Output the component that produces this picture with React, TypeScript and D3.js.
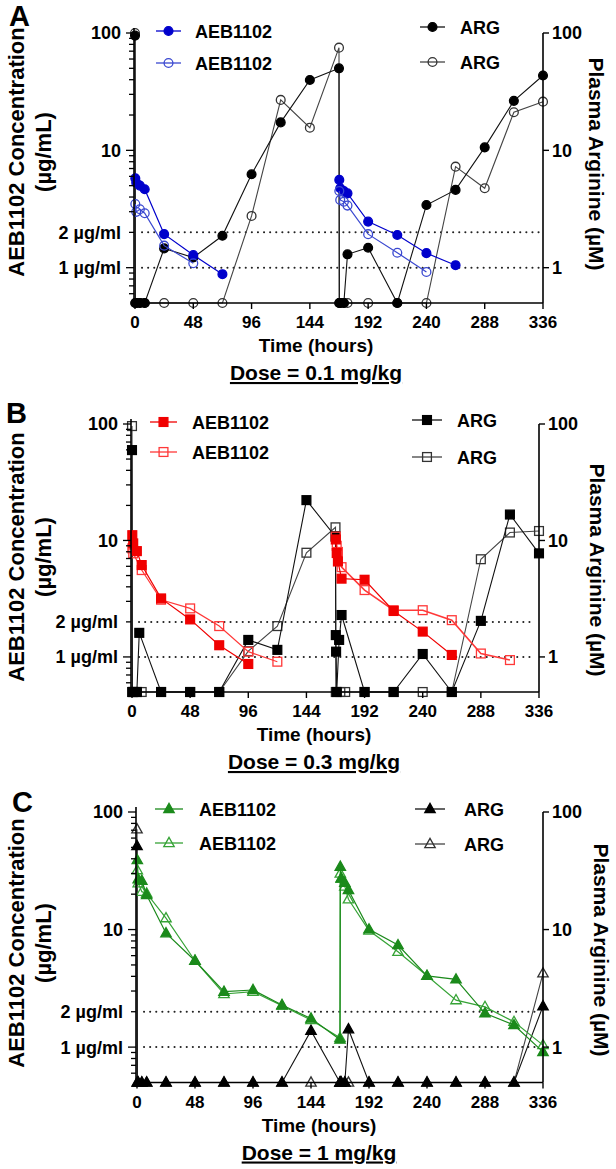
import React from 'react';
import * as d3 from 'd3';

// Below the limit of quantitation: plotted on the floor of the axis
const B = 0.5;

const xTicks = [0, 48, 96, 144, 192, 240, 288, 336];
const leftTickValues = [100, 10, 2, 1];
const leftTickLabels = ['100', '10', '2 µg/ml', '1 µg/ml'];
const rightTickValues = [100, 10, 1];
const rightTickLabels = ['100', '10', '1'];
const refLines = [2, 1];
const seriesNames = ['AEB1102', 'AEB1102', 'ARG', 'ARG'];
const doseLabels = ['Dose = 0.1 mg/kg', 'Dose = 0.3 mg/kg', 'Dose = 1 mg/kg'];
const panelLetters = ['A', 'B', 'C'];

// ---------- Panel A (0.1 mg/kg) ----------
const timeA_arg = [0, 0.25, 1, 4, 8, 24, 48, 72, 96, 120, 144, 168, 168.25, 169, 172, 175, 192, 216, 240, 264, 288, 312, 336];
const argA_filled = [95, B, B, B, B, 1.46, 1.22, 1.87, 6.25, 17.3, 39.8, 50, B, B, B, 1.3, 1.48, B, 3.42, 4.6, 10.6, 26.4, 43.4];
const argA_open = [100, B, B, B, B, B, B, B, 2.76, 26.9, 15.6, 75, B, B, B, B, B, B, B, 7.26, 4.75, 21.1, 26];
const timeA_aeb1 = [0.25, 1, 4, 8, 24, 48, 72];
const aebA_filled1 = [5.78, 5.3, 5.0, 4.66, 1.93, 1.28, 0.88];
const aebA_open1 = [3.49, 2.99, 3.15, 2.91, 1.54, 1.09];
const timeA_aeb2 = [168.25, 169, 172, 175, 192, 216, 240, 264];
const aebA_filled2 = [5.6, 4.75, 4.5, 4.3, 2.47, 1.9, 1.33, 1.05];
const aebA_open2 = [4.5, 3.78, 3.65, 3.38, 1.93, 1.34, 0.92];

// ---------- Panel B (0.3 mg/kg) ----------
const timeB_argF = [0, 0.25, 1, 4, 6, 24, 48, 72, 96, 120, 144, 168, 168.25, 168.5, 169, 171, 173, 192, 216, 240, 264, 288, 312, 336];
const argB_filled = [59.7, B, B, B, 1.61, B, B, B, 1.4, 1.15, 22.2, 10.8, 1.54, 1.11, B, 1.4, 2.29, B, B, 1.06, B, 2.04, 16.7, 7.75];
const timeB_argO = [0, 0.25, 1, 4, 8, 24, 48, 72, 96, 120, 144, 168, 168.25, 169, 172, 176, 192, 216, 240, 264, 288, 312, 336];
const argB_open = [96, B, B, B, B, B, B, B, 1.12, 1.84, 7.85, 12.97, B, B, B, B, B, B, B, B, 6.9, 11.7, 12.06];
const timeB_aebF1 = [0.25, 1, 4, 8, 24, 48, 72, 96];
const aebB_filled1 = [11.1, 9.44, 8.1, 6.15, 3.18, 2.1, 1.26, 0.87];
const timeB_aebO1 = [0.25, 1, 8, 24, 48, 72, 96, 120];
const aebB_open1 = [8.55, 7.75, 5.57, 3.1, 2.61, 1.84, 1.11, 0.91];
const timeB_aeb2 = [168.25, 169, 170, 173, 192, 216, 240, 264, 288, 312];
const aebB_filled2 = [10.2, 7.8, 6.6, 4.7, 4.6, 2.48, 1.65, 1.04];
const aebB_open2 = [10.8, 9.0, 7.97, 5.9, 3.75, 2.52, 2.52, 2.07, 1.07, 0.94];

// ---------- Panel C (1 mg/kg) ----------
const timeC_arg = [0, 0.25, 1, 4, 8, 24, 48, 72, 96, 120, 144, 168, 168.25, 169, 172, 175, 192, 216, 240, 264, 288, 312, 336];
const argC_filled = [51.4, B, B, B, B, B, B, B, B, B, 1.38, B, B, B, B, 1.42, B, B, B, B, B, B, 2.23];
const argC_open = [71.3, B, B, B, B, B, B, B, B, B, B, B, B, B, B, B, B, B, B, B, B, B, 4.24];
const timeC_aeb = [0.25, 1, 4, 8, 24, 48, 72, 96, 120, 144, 168, 168.25, 169, 172, 175, 192, 216, 240, 264, 288, 312, 336];
const aebC_filled = [39, 26.8, 26, 19.7, 9.3, 5.43, 2.96, 3.06, 2.28, 1.75, 1.16, 34.3, 27.3, 25, 21.7, 10.05, 7.38, 4.04, 3.77, 1.94, 1.54, 0.91];
const aebC_open = [32, 24.8, 21, 20.3, 12.5, 5.43, 2.83, 2.96, 2.25, 1.7, 1.2, 30, 27, 23.2, 18.1, 9.8, 6.47, 4.04, 2.51, 2.2, 1.64, 1.04];

type Shape = 'circle' | 'square' | 'triangle';

const FONT = '"Liberation Sans", Arial, Helvetica, sans-serif';

function Marker({ cx, cy, shape, color, filled }: { cx: number; cy: number; shape: Shape; color: string; filled: boolean }) {
  const fill = filled ? color : 'none';
  const sw = 1.3;
  if (shape === 'circle') return <circle cx={cx} cy={cy} r={4.4} fill={fill} stroke={color} strokeWidth={sw} />;
  if (shape === 'square') return <rect x={cx - 4.4} y={cy - 4.4} width={8.8} height={8.8} fill={fill} stroke={color} strokeWidth={sw} />;
  const p = `M${cx},${cy - 5.6}L${cx + 5.2},${cy + 3.6}L${cx - 5.2},${cy + 3.6}Z`;
  return <path d={p} fill={fill} stroke={color} strokeWidth={sw} />;
}

function Series({ times, values, x, y, color, lineColor, shape, filled, lw = 1.2 }: any) {
  const pts: [number, number][] = values.map((v: number, i: number) => [x(times[i]), y(v)]);
  const line = d3.line();
  return (
    <g>
      <path d={line(pts) || ''} fill="none" stroke={lineColor} strokeWidth={lw} />
      {pts.map((p, i) => (
        <Marker key={i} cx={p[0]} cy={p[1]} shape={shape} color={color} filled={filled} />
      ))}
    </g>
  );
}

function LegendItem({ x1, x2, y, tx, label, color, lineColor, shape, filled }: any) {
  return (
    <g>
      <line x1={x1} x2={x2} y1={y} y2={y} stroke={lineColor} strokeWidth={1.3} />
      <Marker cx={(x1 + x2) / 2} cy={y} shape={shape} color={color} filled={filled} />
      <text x={tx} y={y + 6.5} fontSize={18} fontWeight="bold" fontFamily={FONT}>{label}</text>
    </g>
  );
}

function Panel({ cfg, idx, aeb, arg, colors, shape }: any) {
  const x = d3.scaleLinear().domain([0, 336]).range([cfg.x0, cfg.x1]);
  const y = d3.scaleLog().domain([0.5, 100]).range([cfg.yBot, cfg.y100]);
  const minor = y.ticks();
  const isMajor = (v: number) => Math.abs(Math.log10(v) - Math.round(Math.log10(v))) < 1e-6;
  const cx = cfg.textCenter;
  return (
    <g>
      {refLines.map((v) => (
        <line key={v} x1={cfg.axisX + 8} x2={cfg.rightX - 4} y1={y(v)} y2={y(v)} stroke="#222" strokeWidth={2}
          strokeDasharray="0.1,6" strokeLinecap="round" />
      ))}
      {arg.map((s: any, i: number) => (
        <Series key={'arg' + i} {...s} x={x} y={y} shape={shape} />
      ))}
      {aeb.map((s: any, i: number) => (
        <Series key={'aeb' + i} {...s} x={x} y={y} shape={shape} />
      ))}
      <line x1={cfg.axisX} x2={cfg.axisX} y1={cfg.y100 - 5} y2={cfg.yBot} stroke="#000" strokeWidth={1.6} />
      <line x1={cfg.axisX} x2={cfg.rightX} y1={cfg.yBot} y2={cfg.yBot} stroke="#000" strokeWidth={1.6} />
      <line x1={cfg.rightX} x2={cfg.rightX} y1={cfg.y100} y2={cfg.yBot} stroke="#000" strokeWidth={1.6} />
      {minor.filter((v) => v > 0.5).map((v) => (
        <line key={'mt' + v} x1={cfg.axisX - (isMajor(v) ? 8 : 5)} x2={cfg.axisX} y1={y(v)} y2={y(v)} stroke="#000" strokeWidth={1.3} />
      ))}
      {leftTickValues.map((v, i) => (
        <text key={'lt' + v} x={cfg.axisX - 13} y={y(v)} dy="0.36em" textAnchor="end" fontSize={18} fontWeight="bold" fontFamily={FONT}>
          {leftTickLabels[i]}
        </text>
      ))}
      {rightTickValues.map((v, i) => (
        <g key={'rt' + v}>
          <line x1={cfg.rightX} x2={cfg.rightX + 6} y1={y(v)} y2={y(v)} stroke="#000" strokeWidth={1.4} />
          <text x={cfg.rightX + 9} y={y(v)} dy="0.36em" fontSize={18} fontWeight="bold" fontFamily={FONT}>
            {rightTickLabels[i]}
          </text>
        </g>
      ))}
      {xTicks.map((t) => (
        <g key={'xt' + t}>
          <line x1={x(t)} x2={x(t)} y1={cfg.yBot} y2={cfg.yBot + 6} stroke="#000" strokeWidth={1.4} />
          <text x={x(t)} y={cfg.yBot + 25} textAnchor="middle" fontSize={17} fontWeight="bold" fontFamily={FONT}>{t}</text>
        </g>
      ))}
      <text transform={`translate(24,${cfg.leftTitleY}) rotate(-90)`} textAnchor="middle" fontSize={22} fontWeight="bold" fontFamily={FONT}>
        AEB1102 Concentration
      </text>
      <text transform={`translate(51,${cfg.leftTitleY}) rotate(-90)`} textAnchor="middle" fontSize={22} fontWeight="bold" fontFamily={FONT}>
        (µg/mL)
      </text>
      <text transform={`translate(${cfg.rightTitleX},${cfg.rightTitleY}) rotate(90)`} textAnchor="middle" fontSize={21} fontWeight="bold" fontFamily={FONT}>
        Plasma Arginine (µM)
      </text>
      <text x={cx} y={cfg.yBot + 49} textAnchor="middle" fontSize={19} fontWeight="bold" fontFamily={FONT}>Time (hours)</text>
      <text x={cx} y={cfg.yBot + 77} textAnchor="middle" fontSize={21} fontWeight="bold" fontFamily={FONT}
        style={{ textDecoration: 'underline' }}>
        {doseLabels[idx]}
      </text>
      <text x={cfg.letterX} y={cfg.letterY} fontSize={29} fontWeight="bold" fontFamily={FONT}>{panelLetters[idx]}</text>
      <LegendItem {...cfg.legA} y={cfg.legA.y[0]} label={seriesNames[0]} color={colors.f} lineColor={colors.f} shape={shape} filled />
      <LegendItem {...cfg.legA} y={cfg.legA.y[1]} label={seriesNames[1]} color={colors.o} lineColor={colors.o} shape={shape} filled={false} />
      <LegendItem {...cfg.legR} y={cfg.legR.y[0]} label={seriesNames[2]} color="#000" lineColor="#111" shape={shape} filled />
      <LegendItem {...cfg.legR} y={cfg.legR.y[1]} label={seriesNames[3]} color="#333" lineColor="#444" shape={shape} filled={false} />
    </g>
  );
}

const blue = { f: '#0000cc', o: '#3a48d0' };
const red = { f: '#f00000', o: '#ff3838' };
const green = { f: '#1b8a1b', o: '#36a336' };

const cfgA = {
  axisX: 134, x0: 135, x1: 543, rightX: 543, y100: 33, yBot: 303,
  letterX: 9, letterY: 26, leftTitleY: 152, rightTitleY: 164, rightTitleX: 589, textCenter: 316,
  legA: { x1: 156, x2: 181, tx: 195, y: [31, 63] }, legR: { x1: 420, x2: 445, tx: 460, y: [27, 62] },
};
const cfgB = {
  axisX: 131, x0: 132, x1: 539, rightX: 539, y100: 424, yBot: 692,
  letterX: 6, letterY: 423, leftTitleY: 557, rightTitleY: 570, rightTitleX: 590, textCenter: 314,
  legA: { x1: 150, x2: 177, tx: 192, y: [422, 452] }, legR: { x1: 412, x2: 442, tx: 457, y: [420, 457] },
};
const cfgC = {
  axisX: 136, x0: 137, x1: 543, rightX: 543, y100: 812, yBot: 1082.5,
  letterX: 12, letterY: 812, leftTitleY: 943, rightTitleY: 950, rightTitleX: 594, textCenter: 319,
  legA: { x1: 155, x2: 183, tx: 199, y: [809, 843] }, legR: { x1: 415, x2: 445, tx: 464, y: [809, 844] },
};

export default function App() {
  const argStyleF = { color: '#000', lineColor: '#111', filled: true, lw: 1.1 };
  const argStyleO = { color: '#333', lineColor: '#444', filled: false, lw: 1.1 };
  const panelA = {
    aeb: [
      { times: timeA_aeb1, values: aebA_filled1, color: blue.f, lineColor: blue.f, filled: true },
      { times: timeA_aeb2, values: aebA_filled2, color: blue.f, lineColor: blue.f, filled: true },
      { times: timeA_aeb1, values: aebA_open1, color: blue.o, lineColor: blue.o, filled: false },
      { times: timeA_aeb2, values: aebA_open2, color: blue.o, lineColor: blue.o, filled: false },
    ],
    arg: [
      { times: timeA_arg, values: argA_open, ...argStyleO },
      { times: timeA_arg, values: argA_filled, ...argStyleF },
    ],
  };
  const panelB = {
    aeb: [
      { times: timeB_aebO1, values: aebB_open1, color: red.o, lineColor: red.o, filled: false },
      { times: timeB_aeb2, values: aebB_open2, color: red.o, lineColor: red.o, filled: false, lw: 1.6 },
      { times: timeB_aebF1, values: aebB_filled1, color: red.f, lineColor: red.f, filled: true },
      { times: timeB_aeb2, values: aebB_filled2, color: red.f, lineColor: red.f, filled: true },
    ],
    arg: [
      { times: timeB_argO, values: argB_open, ...argStyleO },
      { times: timeB_argF, values: argB_filled, ...argStyleF },
    ],
  };
  const panelC = {
    aeb: [
      { times: timeC_aeb, values: aebC_open, color: green.o, lineColor: green.o, filled: false },
      { times: timeC_aeb, values: aebC_filled, color: green.f, lineColor: green.f, filled: true },
    ],
    arg: [
      { times: timeC_arg, values: argC_open, ...argStyleO },
      { times: timeC_arg, values: argC_filled, ...argStyleF },
    ],
  };
  return (
    <svg width={616} height={1169} style={{ position: 'absolute', left: 0, top: 0, background: '#fff' }}>
      <rect width={616} height={1169} fill="#fff" />
      <Panel cfg={cfgA} idx={0} aeb={panelA.aeb} arg={panelA.arg} colors={blue} shape="circle" />
      <Panel cfg={cfgB} idx={1} aeb={panelB.aeb} arg={panelB.arg} colors={red} shape="square" />
      <Panel cfg={cfgC} idx={2} aeb={panelC.aeb} arg={panelC.arg} colors={green} shape="triangle" />
    </svg>
  );
}
